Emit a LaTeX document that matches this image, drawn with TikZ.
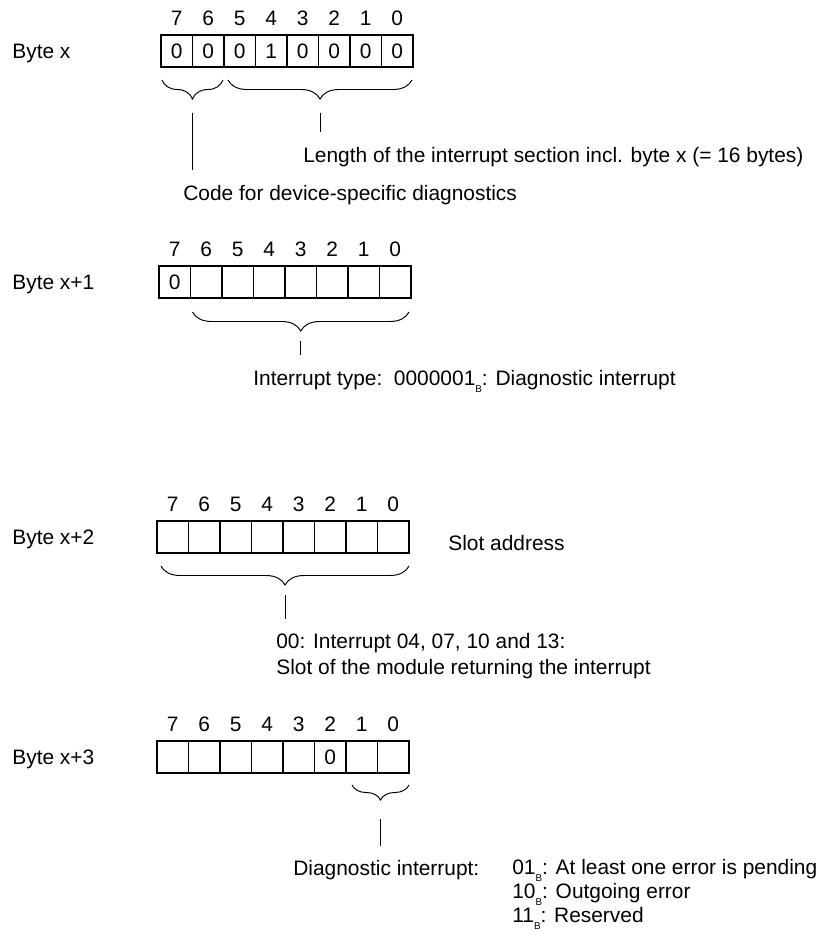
\documentclass[tikz,border=0pt]{standalone}
\usepackage{fontspec}
\setmainfont{Liberation Sans}
\usetikzlibrary{positioning, decorations.pathreplacing}

% small lowered B for binary values
\newcommand{\bsub}{\raisebox{-4pt}{\fontsize{5.6}{6}\selectfont B}}

\tikzset{
  bitcell/.style={draw, line width=0.8pt, minimum width=6.3mm, minimum height=6.4mm,
    inner sep=0pt, outer sep=0pt},
  bitnum/.style={inner sep=0pt},
  lbl/.style={anchor=base west, inner sep=0pt, align=left},
  curly/.style={decorate, decoration={brace, mirror, amplitude=#1}, line width=0.55pt},
  curly/.default=3.8mm,
  stem/.style={line width=0.55pt, shorten >=2.8mm},
}

\begin{document}
\begin{tikzpicture}[x=0.2mm, y=-0.2mm, font=\fontsize{11.9}{14.7}\selectfont]
  \useasboundingbox (0,0) rectangle (825,935);

  % the four bytes: name / left edge / top edge / byte label
  \foreach \r/\lx/\ty/\byte in {a/161/35/x, b/159/266/x+1, c/157/521/x+2, d/157/741/x+3} {
    \node[lbl] (byte\r) at (12,\ty+23.5) {Byte \byte};
    \foreach \b in {0,...,7} {
      \node[bitcell] (\r\b) at ({\lx+(7.5-\b)*31.5},\ty+16) {};
      \node[bitnum] (n\r\b) at ({\lx+(7.5-\b)*31.5},\ty-17) {\b};
    }
  }

  % fixed bit values
  \foreach \b/\v in {7/0,6/0,5/0,4/1,3/0,2/0,1/0,0/0}
    \node (a\b v) at (a\b) {\v};
  \node (b7v) at (b7) {0};
  \node (d2v) at (d2) {0};

  % texts (multi-line nodes sit on their last baseline)
  \node[lbl] (code) at (183,200) {Code for device-specific diagnostics};
  \node[lbl] (len) at (303,162) {Length of the interrupt section incl. byte x (= 16 bytes)};
  \node[lbl] (itype) at (253,385) {Interrupt type:\ \ 0000001\bsub: Diagnostic interrupt};
  \node[lbl] (slot) at (448,550) {Slot address};
  \node[lbl] (slotno) at (276,674) {00: Interrupt 04, 07, 10 and 13:\\Slot of the module returning the interrupt};
  \node[lbl] (diag) at (293,875) {Diagnostic interrupt:};
  \node[lbl, font=\fontsize{11.9}{13.4}\selectfont] (diagval) at (512,922)
    {01\bsub: At least one error is pending\\10\bsub: Outgoing error\\11\bsub: Reserved};

  % braces
  \draw[curly] ([xshift=0.2mm, yshift=-2.6mm]a7.south west)
    -- node[coordinate, midway] (codetip) {} ([xshift=-0.2mm, yshift=-2.6mm]a6.south east);
  \draw[curly] ([xshift=0.8mm, yshift=-2.6mm]a5.south west)
    -- node[coordinate, midway] (lentip) {} ([xshift=-0.2mm, yshift=-2.6mm]a0.south east);
  \draw[curly] ([xshift=0.4mm, yshift=-2.8mm]b6.south west)
    -- node[coordinate, midway] (itypetip) {} ([xshift=-0.4mm, yshift=-2.8mm]b0.south east);
  \draw[curly] ([xshift=0.8mm, yshift=-2.6mm]c7.south west)
    -- node[coordinate, midway] (slottip) {} ([xshift=0mm, yshift=-2.6mm]c0.south east);
  \draw[curly=3mm] ([xshift=1.2mm, yshift=-2.4mm]d1.south west)
    -- node[coordinate, midway] (diagtip) {} ([xshift=0mm, yshift=-2.4mm]d0.south east);

  % stems down to the texts
  \draw[stem] ([yshift=-6.6mm]codetip) -- (codetip |- code.north);
  \draw[stem] ([yshift=-6.6mm]lentip) -- (lentip |- len.north);
  \draw[stem] ([yshift=-5.8mm]itypetip) -- (itypetip |- itype.north);
  \draw[stem] ([yshift=-5.8mm]slottip) -- (slottip |- slotno.north);
  \draw[stem] ([yshift=-6.8mm]diagtip) -- (diagtip |- diag.north);
\end{tikzpicture}
\end{document}
